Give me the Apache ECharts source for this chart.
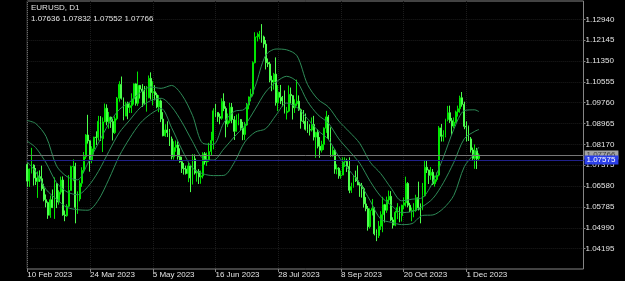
<!DOCTYPE html>
<html><head><meta charset="utf-8">
<script src="https://cdn.jsdelivr.net/npm/echarts@6/dist/echarts.min.js"></script>
<style>html,body{margin:0;padding:0;background:#000;}#c{width:625px;height:281px;}</style>
</head><body><div id="c"></div>
<script>
const symbolTitle = 'EURUSD, D1';
const xTickLabels = ['10 Feb 2023','24 Mar 2023','5 May 2023','16 Jun 2023','28 Jul 2023','8 Sep 2023','20 Oct 2023','1 Dec 2023'];
const barsPerXTick = 30;
const totalSlots = 267;
const yTickValues = [1.04195,1.04990,1.05785,1.06580,1.07375,1.08170,1.08965,1.09760,1.10555,1.11350,1.12145,1.12940];
const yMin = 1.03417, yMax = 1.13642;
const levelPrice = 1.07575;

const openP = [
1.0740,1.0677,1.0723,1.0738,1.0689,1.0676,1.0694,1.0686,1.0648,1.0606,
1.0595,1.0547,1.0606,1.0576,1.0668,1.0597,1.0635,1.0681,1.0548,1.0545,
1.0581,1.0641,1.0732,1.0733,1.0577,1.0609,1.0669,1.0718,1.0770,1.0853,
1.0831,1.0758,1.0800,1.0845,1.0843,1.0905,1.0839,1.0903,1.0955,1.0904,
1.0921,1.0904,1.0862,1.0915,1.0993,1.1046,1.0993,1.0925,1.0972,1.0958,
1.0965,1.0991,1.1048,1.0974,1.1042,1.1028,1.1019,1.0974,1.0995,1.1069,
1.1015,1.1018,1.1006,1.0960,1.0983,1.0914,1.0850,1.0872,1.0862,1.0838,
1.0770,1.0805,1.0815,1.0770,1.0751,1.0725,1.0723,1.0706,1.0735,1.0689,
1.0762,1.0708,1.0714,1.0693,1.0697,1.0781,1.0750,1.0755,1.0790,1.0832,
1.0945,1.0939,1.0923,1.0917,1.0981,1.0954,1.0895,1.0907,1.0959,1.0912,
1.0867,1.0910,1.0912,1.0879,1.0855,1.0891,1.0967,1.0998,1.1009,1.1129,
1.1227,1.1228,1.1237,1.1227,1.1200,1.1129,1.1124,1.1062,1.1055,1.1085,
1.0976,1.1016,1.0997,1.0983,1.0938,1.0944,1.1008,1.1003,1.0957,1.0972,
1.0982,1.0949,1.0906,1.0905,1.0875,1.0873,1.0872,1.0893,1.0845,1.0863,
1.0810,1.0795,1.0817,1.0879,1.0922,1.0842,1.0774,1.0795,1.0723,1.0726,
1.0697,1.0700,1.0750,1.0752,1.0733,1.0642,1.0656,1.0690,1.0678,1.0662,
1.0659,1.0648,1.0590,1.0572,1.0503,1.0565,1.0573,1.0476,1.0469,1.0505,
1.0549,1.0587,1.0566,1.0605,1.0619,1.0529,1.0509,1.0558,1.0576,1.0545,
1.0585,1.0594,1.0668,1.0585,1.0565,1.0565,1.0565,1.0614,1.0575,1.0570,
1.0621,1.0730,1.0719,1.0699,1.0711,1.0667,1.0683,1.0700,1.0880,1.0848,
1.0852,1.0912,1.0938,1.0907,1.0887,1.0902,1.0941,1.0953,1.0995,1.0970,
1.0886,1.0884,1.0838,1.0796,1.0764,1.0793,1.07636];

const highP = [
1.0745,1.0725,1.0804,1.0741,1.0727,1.0714,1.0718,1.0736,1.0667,1.0626,
1.0599,1.0622,1.0645,1.0691,1.0669,1.0642,1.0694,1.0695,1.0565,1.0589,
1.0700,1.0736,1.0760,1.0747,1.0638,1.0680,1.0730,1.0788,1.0856,1.0930,
1.0833,1.0810,1.0846,1.0867,1.0926,1.0925,1.0920,1.0973,1.0970,1.0941,
1.0923,1.0914,1.0924,1.0998,1.1058,1.1076,1.0996,1.0980,1.0980,1.0976,
1.1012,1.1050,1.1050,1.1095,1.1044,1.1047,1.1040,1.1040,1.1080,1.1092,
1.1058,1.1043,1.1014,1.1005,1.0988,1.0940,1.0894,1.0905,1.0876,1.0847,
1.0829,1.0832,1.0829,1.0802,1.0770,1.0746,1.0736,1.0746,1.0736,1.0780,
1.0779,1.0720,1.0723,1.0717,1.0787,1.0788,1.0786,1.0823,1.0865,1.0955,
1.0971,1.0940,1.0935,1.0993,1.1012,1.0962,1.0935,1.0976,1.0975,1.0925,
1.0931,1.0935,1.0914,1.0903,1.0903,1.0975,1.1000,1.1029,1.1134,1.1245,
1.1244,1.1250,1.1276,1.1232,1.1215,1.1145,1.1132,1.1079,1.1090,1.1149,
1.1043,1.1044,1.1002,1.1023,1.0960,1.1042,1.1034,1.1005,1.0989,1.1064,
1.1004,1.0954,1.0948,1.0935,1.0906,1.0894,1.0920,1.0926,1.0865,1.0874,
1.0845,1.0831,1.0882,1.0945,1.0929,1.0882,1.0810,1.0800,1.0741,1.0730,
1.0717,1.0768,1.0768,1.0763,1.0768,1.0671,1.0699,1.0717,1.0737,1.0673,
1.0670,1.0654,1.0616,1.0582,1.0573,1.0609,1.0577,1.0493,1.0525,1.0562,
1.0617,1.0590,1.0618,1.0641,1.0639,1.0539,1.0564,1.0593,1.0580,1.0587,
1.0615,1.0694,1.0673,1.0594,1.0576,1.0593,1.0625,1.0675,1.0592,1.0670,
1.0756,1.0755,1.0721,1.0731,1.0723,1.0698,1.0710,1.0887,1.0895,1.0871,
1.0915,1.0964,1.0965,1.0918,1.0920,1.0946,1.0965,1.1003,1.1017,1.0980,
1.0905,1.0889,1.0845,1.0805,1.0817,1.0804,1.07832];

const lowP = [
1.0655,1.0655,1.0706,1.0660,1.0662,1.0613,1.0674,1.0640,1.0600,1.0577,
1.0533,1.0537,1.0574,1.0533,1.0574,1.0587,1.0626,1.0545,1.0524,1.0541,
1.0577,1.0641,1.0677,1.0516,1.0552,1.0600,1.0655,1.0711,1.0762,1.0820,
1.0713,1.0745,1.0778,1.0815,1.0832,1.0830,1.0788,1.0902,1.0890,1.0877,
1.0880,1.0832,1.0857,1.0909,1.0980,1.0988,1.0909,1.0925,1.0913,1.0937,
1.0937,1.0969,1.0965,1.0964,1.0992,1.0960,1.0967,1.0942,1.0993,1.0988,
1.0966,1.0985,1.0955,1.0940,1.0902,1.0848,1.0846,1.0845,1.0811,1.0760,
1.0759,1.0789,1.0759,1.0747,1.0708,1.0702,1.0702,1.0673,1.0635,1.0664,
1.0702,1.0675,1.0666,1.0667,1.0687,1.0740,1.0735,1.0751,1.0774,1.0798,
1.0922,1.0903,1.0894,1.0911,1.0944,1.0844,1.0883,1.0898,1.0898,1.0834,
1.0866,1.0890,1.0868,1.0833,1.0834,1.0888,1.0951,1.0981,1.1000,1.1126,
1.1210,1.1218,1.1205,1.1186,1.1103,1.1112,1.1054,1.1020,1.1026,1.0965,
1.0944,1.0971,1.0962,1.0935,1.0912,1.0940,1.0973,1.0912,1.0937,1.0964,
1.0945,1.0877,1.0896,1.0870,1.0861,1.0851,1.0866,1.0832,1.0766,1.0802,
1.0766,1.0786,1.0796,1.0861,1.0834,1.0770,1.0770,1.0705,1.0703,1.0686,
1.0686,1.0700,1.0731,1.0712,1.0631,1.0632,1.0652,1.0674,1.0662,1.0617,
1.0614,1.0576,1.0562,1.0488,1.0496,1.0546,1.0470,1.0448,1.0460,1.0491,
1.0482,1.0519,1.0556,1.0591,1.0525,1.0496,1.0505,1.0532,1.0520,1.0523,
1.0570,1.0580,1.0577,1.0559,1.0524,1.0539,1.0560,1.0565,1.0516,1.0566,
1.0618,1.0708,1.0666,1.0682,1.0662,1.0656,1.0675,1.0695,1.0828,1.0828,
1.0844,1.0905,1.0899,1.0852,1.0879,1.0897,1.0923,1.0938,1.0961,1.0875,
1.0828,1.0830,1.0786,1.0758,1.0724,1.0723,1.07552];

const closeP = [
1.0677,1.0723,1.0738,1.0689,1.0676,1.0694,1.0686,1.0648,1.0606,1.0595,
1.0547,1.0606,1.0576,1.0668,1.0597,1.0635,1.0681,1.0548,1.0545,1.0581,
1.0641,1.0732,1.0733,1.0577,1.0609,1.0669,1.0718,1.0770,1.0853,1.0831,
1.0758,1.0800,1.0845,1.0843,1.0905,1.0839,1.0903,1.0955,1.0904,1.0921,
1.0904,1.0862,1.0915,1.0993,1.1046,1.0993,1.0925,1.0972,1.0958,1.0965,
1.0991,1.1048,1.0974,1.1042,1.1028,1.1019,1.0974,1.0995,1.1069,1.1015,
1.1018,1.1006,1.0960,1.0983,1.0914,1.0850,1.0872,1.0862,1.0838,1.0770,
1.0805,1.0815,1.0770,1.0751,1.0725,1.0723,1.0706,1.0735,1.0689,1.0762,
1.0708,1.0714,1.0693,1.0697,1.0781,1.0750,1.0755,1.0790,1.0832,1.0945,
1.0939,1.0923,1.0917,1.0981,1.0954,1.0895,1.0907,1.0959,1.0912,1.0867,
1.0910,1.0912,1.0879,1.0855,1.0891,1.0967,1.0998,1.1009,1.1129,1.1227,
1.1228,1.1237,1.1227,1.1200,1.1129,1.1124,1.1062,1.1055,1.1085,1.0976,
1.1016,1.0997,1.0983,1.0938,1.0944,1.1008,1.1003,1.0957,1.0972,1.0982,
1.0949,1.0906,1.0905,1.0875,1.0873,1.0872,1.0893,1.0845,1.0863,1.0810,
1.0795,1.0817,1.0879,1.0922,1.0842,1.0774,1.0795,1.0723,1.0726,1.0697,
1.0700,1.0750,1.0752,1.0733,1.0642,1.0656,1.0690,1.0678,1.0662,1.0659,
1.0648,1.0590,1.0572,1.0503,1.0565,1.0573,1.0476,1.0469,1.0505,1.0549,
1.0587,1.0566,1.0605,1.0619,1.0529,1.0509,1.0558,1.0576,1.0545,1.0585,
1.0594,1.0668,1.0585,1.0565,1.0565,1.0565,1.0614,1.0575,1.0570,1.0621,
1.0730,1.0719,1.0699,1.0711,1.0667,1.0683,1.0700,1.0880,1.0848,1.0852,
1.0912,1.0938,1.0907,1.0887,1.0902,1.0941,1.0953,1.0995,1.0970,1.0886,
1.0884,1.0838,1.0796,1.0764,1.0793,1.0762,1.07766];

const bandIdx = [0,4,9,14,19,24,29,34,39,44,49,54,59,64,69,74,79,84,89,94,99,104,109,114,119,124,129,134,139,144,149,154,159,164,169,174,179,184,189,194,199,204,209,214,216];
const bandUpper = [1.0908,1.0897,1.0847,1.0735,1.0694,1.0682,1.0746,1.0822,1.0896,1.0950,1.0979,1.1015,1.1036,1.1031,1.1042,1.1005,1.0928,1.0821,1.0817,1.0900,1.0943,1.0952,1.1039,1.1157,1.1181,1.1178,1.1155,1.1046,1.0989,1.0960,1.0906,1.0865,1.0821,1.0749,1.0706,1.0650,1.0602,1.0608,1.0614,1.0674,1.0768,1.0875,1.0946,1.0949,1.0942];
const bandMid = [1.0829,1.0805,1.0746,1.0671,1.0636,1.0625,1.0656,1.0714,1.0790,1.0862,1.0910,1.0957,1.0984,1.0993,1.0961,1.0901,1.0828,1.0763,1.0757,1.0800,1.0846,1.0889,1.0952,1.1017,1.1055,1.1077,1.1056,1.0981,1.0930,1.0898,1.0838,1.0792,1.0745,1.0676,1.0619,1.0585,1.0557,1.0561,1.0580,1.0611,1.0671,1.0749,1.0839,1.0867,1.0874];
const bandLower = [1.0750,1.0713,1.0645,1.0608,1.0577,1.0568,1.0566,1.0605,1.0684,1.0773,1.0841,1.0898,1.0933,1.0954,1.0881,1.0796,1.0727,1.0705,1.0698,1.0699,1.0748,1.0826,1.0864,1.0877,1.0929,1.0975,1.0958,1.0915,1.0870,1.0836,1.0770,1.0718,1.0669,1.0602,1.0532,1.0520,1.0511,1.0515,1.0546,1.0548,1.0573,1.0623,1.0732,1.0784,1.0807];

const FONT = 'Liberation Sans';
const TXT = '#e4e4e4';
const slots = [];
for (let i = 0; i < totalSlots; i++) slots.push(String(i));
const lastIdx = closeP.length - 1;
const isXTick = (i) => i % barsPerXTick === 0 && (i / barsPerXTick) < xTickLabels.length;
const candles = closeP.map((c, i) => [openP[i], c, lowP[i], highP[i]]);
const band = (arr) => bandIdx.map((ix, k) => [ix, arr[k]]);
const bidPrice = closeP[lastIdx];
const ohlcText = [openP[lastIdx], highP[lastIdx], lowP[lastIdx], closeP[lastIdx]].map(v => v.toFixed(5)).join(' ');

const chart = echarts.init(document.getElementById('c'), null, {renderer: 'canvas'});
const bandStyle = {color: '#2e8b57', width: 1};
chart.setOption({
  backgroundColor: '#000000',
  animation: false,
  grid: {left: 27.3, right: 41.5, top: 1, bottom: 12, show: true, borderColor: '#858585', borderWidth: 1, backgroundColor: 'transparent'},
  xAxis: {
    type: 'category', data: slots, boundaryGap: false,
    axisLine: {show: false},
    axisTick: {show: true, interval: (i) => isXTick(i), length: 3, lineStyle: {color: '#858585'}},
    splitLine: {show: true, interval: (i) => isXTick(i), lineStyle: {color: '#1c1c1c', type: 'dotted', width: 1}},
    axisLabel: {
      interval: (i) => isXTick(i), align: 'left', margin: 2,
      color: TXT, fontSize: 8, fontFamily: FONT,
      formatter: (v, i) => xTickLabels[i / barsPerXTick] || ''
    }
  },
  yAxis: {
    type: 'value', position: 'right', min: yMin, max: yMax, scale: true,
    axisLine: {show: false},
    axisTick: {show: true, customValues: yTickValues, length: 2, lineStyle: {color: '#858585'}},
    splitLine: {show: true, lineStyle: {color: '#1c1c1c', type: 'dotted', width: 1}},
    axisLabel: {customValues: yTickValues, margin: 2, color: TXT, fontSize: 8, fontFamily: FONT,
      formatter: (v) => v.toFixed(5)}
  },
  graphic: [
    {type: 'text', left: 31, top: 4, z: 10, style: {text: symbolTitle, fill: TXT, font: '8px "' + FONT + '"'}},
    {type: 'text', left: 31, top: 15, z: 10, style: {text: ohlcText, fill: TXT, font: '8px "' + FONT + '"'}}
  ],
  series: [
    {
      type: 'candlestick', data: candles, barWidth: 1.4, z: 2,
      itemStyle: {color: '#00b800', color0: '#9cff9c', borderColor: '#00e600', borderColor0: '#4cff4c', borderWidth: 1},
      markLine: {
        symbol: 'none', silent: true, animation: false, precision: 5,
        data: [
          {yAxis: bidPrice, lineStyle: {color: '#767676', type: 'solid', width: 1},
           label: {show: true, position: 'end', distance: 1, formatter: (p) => Number(p.value).toFixed(5), color: '#3c3c3c', backgroundColor: '#a4a4a4', padding: [1, 3, 0, 2], fontSize: 8, fontFamily: FONT}},
          {yAxis: levelPrice, lineStyle: {color: '#20208a', type: 'solid', width: 1},
           label: {show: true, position: 'end', distance: 1, formatter: (p) => Number(p.value).toFixed(5), color: '#ffffff', backgroundColor: '#2b3fe8', padding: [1, 3, 0, 2], fontSize: 8, fontFamily: FONT}}
        ]
      }
    },
    {type: 'line', data: band(bandUpper), showSymbol: false, smooth: 0.3, lineStyle: bandStyle, z: 3, silent: true},
    {type: 'line', data: band(bandMid), showSymbol: false, smooth: 0.3, lineStyle: bandStyle, z: 3, silent: true},
    {type: 'line', data: band(bandLower), showSymbol: false, smooth: 0.3, lineStyle: bandStyle, z: 3, silent: true}
  ]
});
</script>
</body></html>
